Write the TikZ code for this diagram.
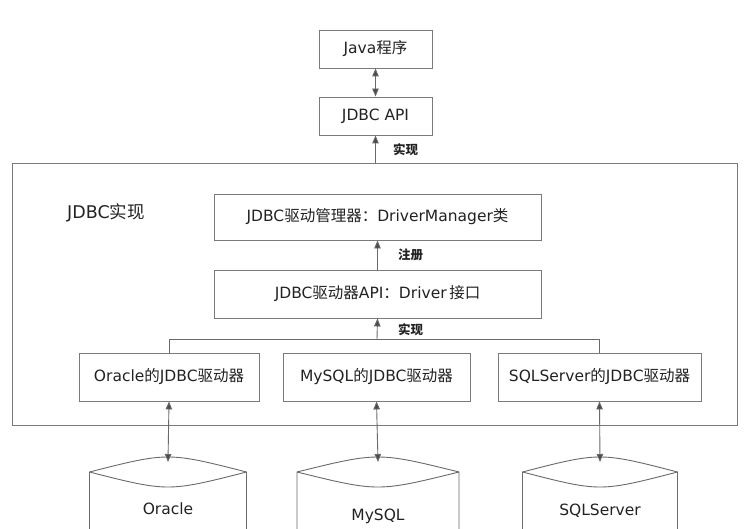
\documentclass[tikz,border=0pt]{standalone}
\usepackage{fontspec}
\newfontfamily\cjk{Noto Sans CJK SC}
\newfontfamily\lat{DejaVu Sans}
\usetikzlibrary{arrows.meta}
\definecolor{ln}{HTML}{6A6A6A}
\definecolor{bx}{HTML}{7A7A7A}
\definecolor{ah}{HTML}{4A4A4A}
\definecolor{tx}{HTML}{222222}
\newcommand{\zh}[1]{{\cjk #1}}
\tikzset{
  box/.style={draw=bx, line width=0.9pt, fill=white, inner sep=0pt, text=tx, font=\lat\fontsize{15.5}{18}\selectfont},
  lab/.style={text=tx, font=\cjk\bfseries\fontsize{12.5}{14}\selectfont, inner sep=1pt},
  conn/.style={draw=ln, line width=0.9pt},
  tip/.style={-{Triangle[length=8pt,width=6.5pt,fill=ah]}},
  dtip/.style={{Triangle[length=8pt,width=6.5pt,fill=ah]}-{Triangle[length=8pt,width=6.5pt,fill=ah]}},
}
\begin{document}
\begin{tikzpicture}[x=1pt,y=-1pt]
\useasboundingbox (0,0) rectangle (754,529);
\clip (0,0) rectangle (754,529);
% top boxes
\node[box, minimum width=113pt, minimum height=38pt] (java) at (375.5,49) {Java\zh{程序}};
\node[box, minimum width=113pt, minimum height=38pt] (api) at (375.5,116) {JDBC API};
\draw[conn, dtip] (java) -- (api);
% outer box
\node[draw=bx, line width=0.9pt, minimum width=725pt, minimum height=262pt, inner sep=0pt] (outer) at (374.5,294) {};
\draw[conn, tip] (api.south |- outer.north) -- (api.south);
\node[lab, anchor=west] (l1) at (392,150) {实现};
\node[text=tx, font=\lat\fontsize{17.5}{20}\selectfont, inner sep=0pt] (impl) at (106,213) {JDBC\zh{实现}};
% manager and driver
\node[box, minimum width=327pt, minimum height=46pt] (dm) at (377.5,217) {JDBC\zh{驱动管理器：}DriverManager\zh{类}};
\node[box, minimum width=327pt, minimum height=48pt] (drv) at (377.5,294) {JDBC\zh{驱动器}API\zh{：}Driver\,\zh{接口}};
\draw[conn, tip] (drv.north) -- (dm.south);
\node[lab, anchor=west] (l2) at (397,255) {注册};
% driver implementations
\node[box, minimum width=180pt, minimum height=48pt] (ora) at (169,377) {Oracle\zh{的}JDBC\zh{驱动器}};
\node[box, minimum width=187pt, minimum height=48pt] (my) at (376.5,377) {MySQL\zh{的}JDBC\zh{驱动器}};
\node[box, minimum width=203pt, minimum height=48pt] (ss) at (599.5,377) {SQLServer\zh{的}JDBC\zh{驱动器}};
\coordinate (bus) at (377,339);
\draw[conn] (ora.north) -- (ora.north |- bus) -- (ss.north |- bus) -- (ss.north);
\draw[conn, tip] (bus) -- (drv.south);
\node[lab, anchor=west] (l3) at (397,330) {实现};
% databases
\foreach \n/\cx/\hw/\t/\ty in {dbo/168/78.5/Oracle/509, dbm/378/81/MySQL/516, dbs/600/77.5/SQLServer/511}{
  \coordinate (\n-top) at (\cx,462);
  \draw[conn, fill=white] (\cx-\hw,540) -- (\cx-\hw,472) .. controls (\cx,452) .. (\cx+\hw,472) -- (\cx+\hw,540);
  \draw[conn] (\cx-\hw,472) .. controls (\cx,492) .. (\cx+\hw,472);
  \node[text=tx, font=\lat\fontsize{15.5}{18}\selectfont, inner sep=0pt] (\n) at (\cx,\ty) {\t};
}
\draw[conn, dtip] (ora.south) -- (dbo-top);
\draw[conn, dtip] (my.south) -- (dbm-top);
\draw[conn, dtip] (ss.south) -- (dbs-top);
\end{tikzpicture}
\end{document}
